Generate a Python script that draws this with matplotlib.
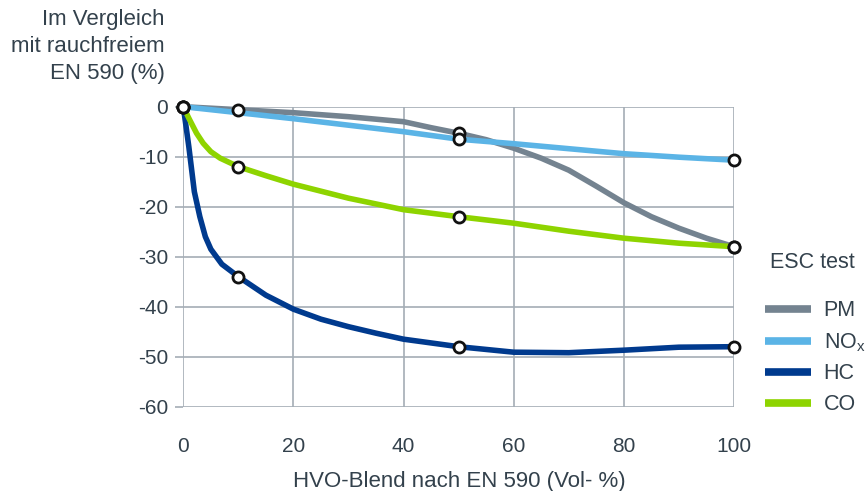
import matplotlib.pyplot as plt

# curve points (smoothed lines)
pm_x = [0, 10, 20, 30, 40, 45, 50, 55, 60, 65, 70, 75, 80, 85, 90, 95, 100]
pm_y = [0, -0.6, -1.2, -2.0, -3.0, -4.2, -5.3, -6.6, -8.3, -10.3, -12.7, -15.9, -19.2, -22.0, -24.3, -26.3, -28.0]

nox_x = [0, 10, 20, 30, 40, 50, 60, 70, 80, 90, 100]
nox_y = [0, -1.2, -2.4, -3.7, -5.0, -6.5, -7.4, -8.4, -9.4, -10.1, -10.7]

hc_x = [0, 1, 2, 3, 4, 5, 7, 10, 15, 20, 25, 30, 35, 40, 50, 60, 70, 80, 90, 100]
hc_y = [0, -8, -17, -22, -26, -28.5, -31.5, -34, -37.7, -40.5, -42.5, -44, -45.3, -46.5, -48,
        -49.1, -49.2, -48.7, -48.1, -48]

co_x = [0, 1, 2.4, 3.6, 5, 6.7, 10, 15, 20, 30, 40, 50, 60, 70, 80, 90, 100]
co_y = [0, -2.3, -5.3, -7.3, -9.0, -10.3, -12, -13.8, -15.5, -18.3, -20.6, -22, -23.3, -24.9, -26.3,
        -27.3, -28]

# measured points (markers)
pm_mx = [0, 10, 50, 100]
pm_my = [0, -0.6, -5.3, -28.0]
nox_mx = [0, 50, 100]
nox_my = [0, -6.5, -10.7]
hc_mx = [0, 10, 50, 100]
hc_my = [0, -34, -48, -48]
co_mx = [0, 10, 50, 100]
co_my = [0, -12, -22, -28]

x_ticks = [0, 20, 40, 60, 80, 100]
y_ticks = [0, -10, -20, -30, -40, -50, -60]

txt = '#33414c'
grid = '#a4adb5'

plt.rcParams['font.family'] = ['Liberation Sans', 'DejaVu Sans']
plt.rcParams['axes.unicode_minus'] = False

fig = plt.figure(figsize=(8.68, 4.91), dpi=100)
ax = fig.add_axes([0.2112, 0.1717, 0.6344, 0.6110])

series = [
    ('PM', pm_x, pm_y, pm_mx, pm_my, '#748390'),
    ('NO$_\\mathregular{x}$', nox_x, nox_y, nox_mx, nox_my, '#5bb4e6'),
    ('HC', hc_x, hc_y, hc_mx, hc_my, '#003a8e'),
    ('CO', co_x, co_y, co_mx, co_my, '#8ed400'),
]
handles = []
for i, (name, x, y, mx, my, c) in enumerate(series):
    ax.plot(x, y, color=c, lw=4, solid_capstyle='round', solid_joinstyle='round',
            zorder=3 + i, clip_on=False)
    handles.append(plt.Line2D([], [], color=c, lw=5.5, solid_capstyle='butt', label=name))
for name, x, y, mx, my, c in series:
    ax.plot(mx, my, 'o', ms=8, mfc='white', mec='#111111', mew=2, zorder=10, clip_on=False)

ax.set_xlim(0, 100)
ax.set_ylim(-60, 0)
ax.set_xticks(x_ticks)
ax.set_yticks(y_ticks)
ax.grid(True, color=grid, lw=1.2)
ax.set_axisbelow(True)
for s in ax.spines.values():
    s.set_visible(False)
ax.tick_params(axis='y', length=6, width=1.2, color=grid, pad=5, labelsize=15, labelcolor=txt)
ax.tick_params(axis='x', length=0, pad=21.5, labelsize=15, labelcolor=txt)

fig.text(459 / 868, 1 - 481 / 491, 'HVO-Blend nach EN 590 (Vol- %)', ha='center', va='center',
         fontsize=16, color=txt)
for i, line in enumerate(['Im Vergleich', 'mit rauchfreiem', 'EN 590 (%)']):
    fig.text(165 / 868, 1 - (20 + 26.5 * i) / 491, line, ha='right', va='center',
             fontsize=16, color=txt)

fig.text(770 / 868, 1 - 262 / 491, 'ESC test', ha='left', va='center', fontsize=15.5, color=txt)
fig.legend(handles=handles, loc='upper left', bbox_to_anchor=(746 / 868, 1 - 281 / 491),
           frameon=False, fontsize=15.5, labelcolor=txt, handlelength=2.1, handletextpad=0.6,
           labelspacing=0.45)

fig.savefig('out.png', dpi=100)
